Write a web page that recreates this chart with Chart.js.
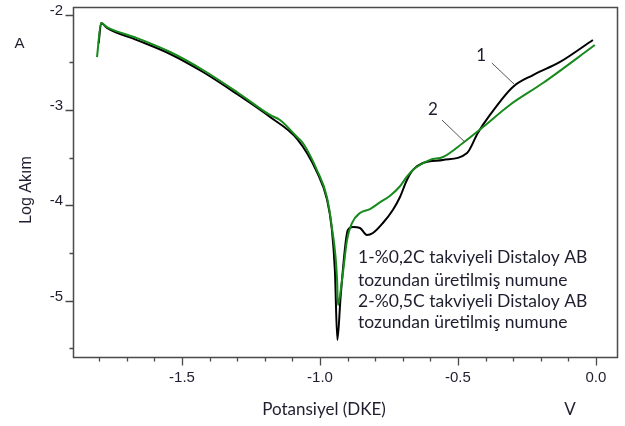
<!DOCTYPE html>
<html lang="tr">
<head>
<meta charset="utf-8">
<title>Log Akım - Potansiyel</title>
<script src="https://cdn.jsdelivr.net/npm/chart.js@4.4.1/dist/chart.umd.min.js"></script>
<style>
    html, body { margin: 0; padding: 0; background: #fff; }
    #polarizasyon { display: block; }
</style>
</head>
<body>
<canvas id="polarizasyon" width="625" height="426"></canvas>
<script>
// Numune 1 (siyah egri)
const potansiyel1 = [-1.802, -1.793, -1.772, -1.663, -1.543, -1.424, -1.301, -1.181, -1.083, -1.011, -0.975, -0.957,
    -0.946, -0.937, -0.925, -0.899, -0.880, -0.855, -0.830, -0.808, -0.772, -0.736, -0.710, -0.685, -0.663, -0.627,
    -0.554, -0.467, -0.428, -0.384, -0.301, -0.228, -0.130, -0.011];
const logAkim1 = [-2.30, -2.087, -2.139, -2.266, -2.412, -2.601, -2.832, -3.073, -3.304, -3.651, -3.935, -4.249,
    -4.679, -5.414, -4.95, -4.259, -4.228, -4.238, -4.312, -4.291, -4.186, -4.049, -3.913, -3.735, -3.629, -3.556,
    -3.524, -3.451, -3.241, -3.052, -2.758, -2.633, -2.496, -2.265];

// Numune 2 (yesil egri)
const potansiyel2 = [-1.808, -1.793, -1.772, -1.663, -1.543, -1.424, -1.301, -1.181, -1.145, -1.083, -1.062, -1.011,
    -0.975, -0.957, -0.938, -0.935, -0.920, -0.902, -0.884, -0.855, -0.819, -0.783, -0.746, -0.710, -0.685, -0.663,
    -0.601, -0.554, -0.482, -0.409, -0.312, -0.192, -0.004];
const logAkim2 = [-2.444, -2.087, -2.129, -2.245, -2.391, -2.580, -2.811, -3.052, -3.105, -3.283, -3.346, -3.630,
    -3.913, -4.228, -4.784, -5.046, -4.784, -4.365, -4.186, -4.080, -4.040, -3.970, -3.900, -3.800, -3.700, -3.629,
    -3.524, -3.493, -3.346, -3.178, -2.947, -2.717, -2.318];

// Eksen etiketleri
const xEtiketleri = [-1.5, -1.0, -0.5, 0.0];
const yEtiketleri = [-2, -3, -4, -5];

const aciklamaSatirlari = [
    "1-%0,2C takviyeli Distaloy AB",
    "tozundan üretilmiş numune",
    "2-%0,5C takviyeli Distaloy AB",
    "tozundan üretilmiş numune",
];

document.addEventListener("DOMContentLoaded", () => {

    const canvas = document.getElementById("polarizasyon");
    const yaziRengi = "#1e1e2e";
    const eksenRengi = "#4a4a4a";

    // x ve y dizilerinden nokta listesi
    function noktalar(xs, ys) {
        return xs.map((x, i) => ({ x: x, y: ys[i] }));
    }

    function etiketVarMi(deger, liste) {
        return liste.some((e) => Math.abs(e - deger) < 1e-6);
    }

    // Cerceve, tik isaretleri, eksen basliklari ve aciklamalar
    const cizimPlugin = {
        id: "cizim",
        afterDraw(chart) {
            const ctx = chart.ctx;
            const a = chart.chartArea;
            const x = chart.scales.x;
            const y = chart.scales.y;
            const sol = Math.round(a.left) + 0.5;
            const sag = Math.round(a.right) - 0.5;
            const ust = Math.round(a.top) + 0.5;
            const alt = Math.round(a.bottom) + 0.5;

            ctx.save();
            ctx.strokeStyle = eksenRengi;
            ctx.lineWidth = 1.5;
            ctx.beginPath();
            ctx.moveTo(sol, ust);
            ctx.lineTo(sag, ust);
            ctx.lineTo(sag, alt);
            ctx.lineTo(sol, alt);
            ctx.closePath();
            ctx.stroke();

            ctx.lineWidth = 1.3;
            ctx.beginPath();
            x.ticks.forEach((t) => {
                const px = Math.round(x.getPixelForValue(t.value)) + 0.5;
                const boy = t.label ? 8 : 4;
                ctx.moveTo(px, alt);
                ctx.lineTo(px, alt + boy);
            });
            y.ticks.forEach((t) => {
                const py = Math.round(y.getPixelForValue(t.value)) + 0.5;
                const boy = t.label ? 8 : 4;
                ctx.moveTo(sol, py);
                ctx.lineTo(sol - boy, py);
            });
            ctx.stroke();

            // Egri numaralari icin kilavuz cizgileri
            ctx.strokeStyle = "#555";
            ctx.lineWidth = 1;
            ctx.beginPath();
            ctx.moveTo(x.getPixelForValue(-0.377), y.getPixelForValue(-2.507));
            ctx.lineTo(x.getPixelForValue(-0.293), y.getPixelForValue(-2.738));
            ctx.moveTo(x.getPixelForValue(-0.558), y.getPixelForValue(-3.105));
            ctx.lineTo(x.getPixelForValue(-0.475), y.getPixelForValue(-3.336));
            ctx.stroke();

            ctx.fillStyle = yaziRengi;
            ctx.textAlign = "center";
            ctx.textBaseline = "middle";
            ctx.font = "17px Lato";
            ctx.fillText("1", x.getPixelForValue(-0.416), y.getPixelForValue(-2.423));
            ctx.fillText("2", x.getPixelForValue(-0.591), y.getPixelForValue(-2.990));

            ctx.fillText("Potansiyel (DKE)", 324, 410);
            ctx.fillText("V", 570, 410);

            ctx.font = "15px 'Liberation Sans'";
            ctx.fillText("A", 19.5, 44);
            ctx.save();
            ctx.translate(27, 190);
            ctx.rotate(-Math.PI / 2);
            ctx.font = "16px 'Liberation Sans'";
            ctx.fillText("Log Akım", 0, 0);
            ctx.restore();

            // Numune aciklamasi
            ctx.font = "17.5px Lato";
            ctx.textAlign = "left";
            const satirY = [-4.544, -4.784, -5.005, -5.225];
            aciklamaSatirlari.forEach((satir, i) => {
                ctx.fillText(satir, x.getPixelForValue(-0.862), y.getPixelForValue(satirY[i]));
            });
            ctx.restore();
        },
    };

    const tikYazisi = { family: "'Liberation Sans', Arial, sans-serif", size: 15 };

    new Chart(canvas.getContext("2d"), {
        type: "line",
        data: {
            datasets: [
                {
                    label: "2",
                    data: noktalar(potansiyel2, logAkim2),
                    borderColor: "#178a1c",
                    borderWidth: 2,
                    pointRadius: 0,
                    cubicInterpolationMode: "monotone",
                    order: 0,
                },
                {
                    label: "1",
                    data: noktalar(potansiyel1, logAkim1),
                    borderColor: "#000000",
                    borderWidth: 2,
                    pointRadius: 0,
                    cubicInterpolationMode: "monotone",
                    order: 1,
                },
            ],
        },
        options: {
            responsive: false,
            animation: false,
            devicePixelRatio: 1,
            layout: { padding: { left: 0, top: 7, right: 7, bottom: 0 } },
            plugins: {
                legend: { display: false },
                tooltip: { enabled: false },
            },
            scales: {
                x: {
                    type: "linear",
                    min: -1.895,
                    max: 0.08,
                    grid: { display: false, drawTicks: false },
                    border: { display: false },
                    afterFit: (s) => {
                        s.height = 69;
                        s.paddingLeft = 0;
                        s.paddingRight = 0;
                    },
                    ticks: {
                        stepSize: 0.1,
                        includeBounds: false,
                        autoSkip: false,
                        maxRotation: 0,
                        padding: 12,
                        color: yaziRengi,
                        font: tikYazisi,
                        callback: (v) => {
                            const d = Math.round(v * 10) / 10;
                            return etiketVarMi(d, xEtiketleri) ? (d === 0 ? "0.0" : d.toFixed(1)) : "";
                        },
                    },
                },
                y: {
                    type: "linear",
                    min: -5.592,
                    max: -1.919,
                    grid: { display: false, drawTicks: false },
                    border: { display: false },
                    afterFit: (s) => {
                        s.width = 73;
                        s.paddingTop = 0;
                        s.paddingBottom = 0;
                    },
                    ticks: {
                        stepSize: 0.5,
                        includeBounds: false,
                        autoSkip: false,
                        padding: 10,
                        labelOffset: -4,
                        color: yaziRengi,
                        font: tikYazisi,
                        callback: (v) => {
                            const d = Math.round(v * 10) / 10;
                            return etiketVarMi(d, yEtiketleri) ? String(d) : "";
                        },
                    },
                },
            },
        },
        plugins: [cizimPlugin],
    });
});
</script>
</body>
</html>
